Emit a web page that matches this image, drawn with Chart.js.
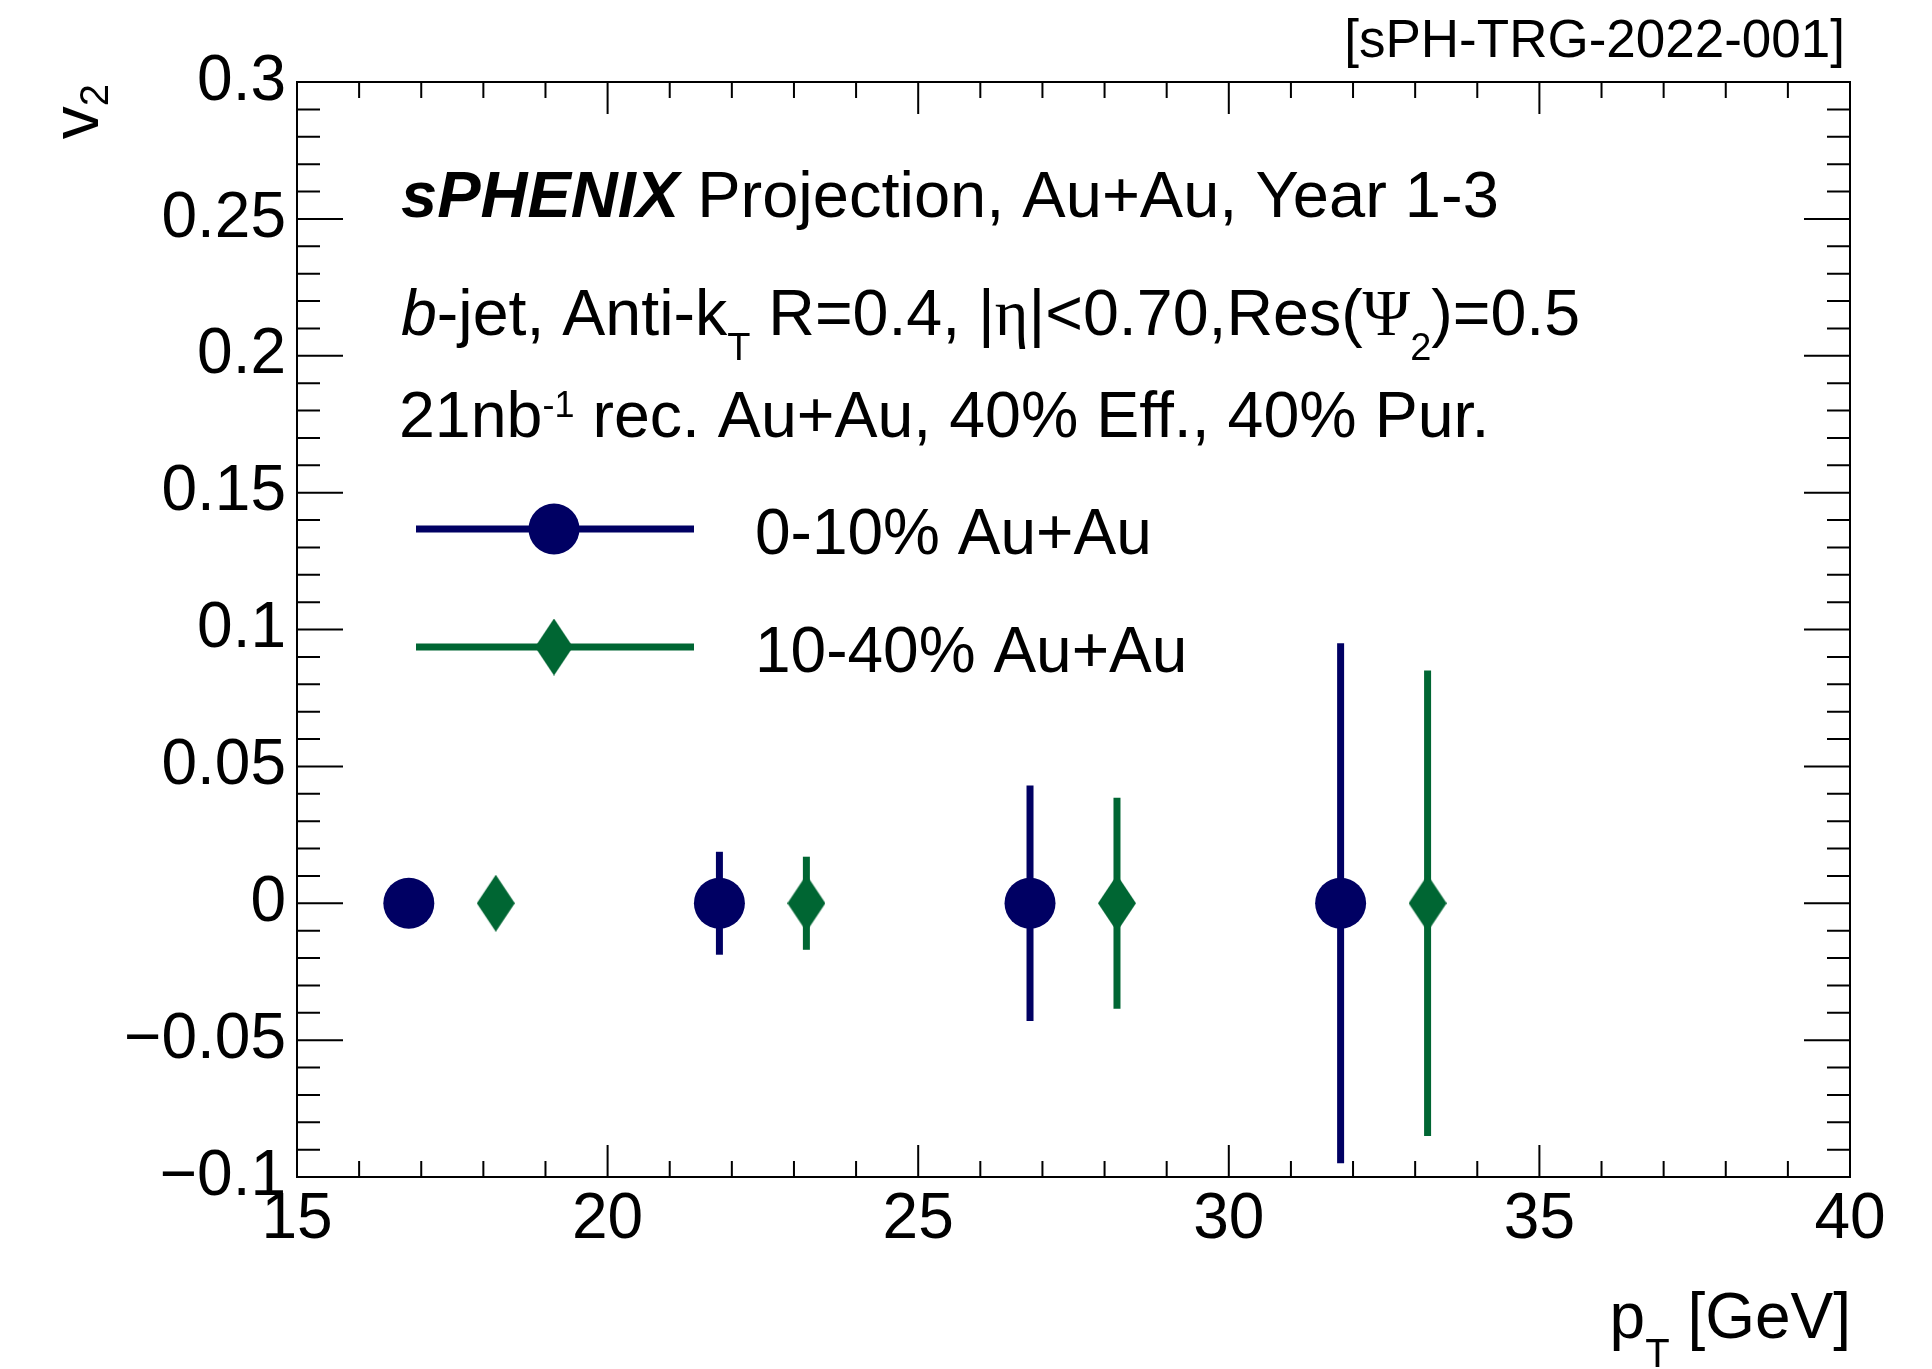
<!DOCTYPE html>
<html>
<head>
<meta charset="utf-8">
<script src="https://cdn.jsdelivr.net/npm/chart.js@4.4.1/dist/chart.umd.min.js"></script>
<style>
  html, body { margin: 0; padding: 0; background: #fff; }
  canvas { display: block; }
</style>
</head>
<body>
<canvas id="myChart" width="1932" height="1369"></canvas>
<script>
// values
const ptCentral = [16.8, 21.8, 26.8, 31.8];
const v2Central = [0, 0, 0, 0];
const errCentral = [0.008, 0.0188, 0.043, 0.095];

const ptMid = [18.2, 23.2, 28.2, 33.2];
const v2Mid = [0, 0, 0, 0];
const errMid = [0.0072, 0.017, 0.0385, 0.085];

const seriesLabels = ['0-10% Au+Au', '10-40% Au+Au'];
const xTicks = [15, 20, 25, 30, 35, 40];
const yTicks = [-0.1, -0.05, 0, 0.05, 0.1, 0.15, 0.2, 0.25, 0.3];

const NAVY = '#000063';
const GREEN = '#006633';
const FONT = '"Liberation Sans", Arial, Helvetica, sans-serif';
const GREEK = '"Liberation Serif", "DejaVu Serif", serif';

// stretched diamond marker
function makeDiamond(w, h, color) {
    const c = document.createElement('canvas');
    c.width = w; c.height = h;
    const g = c.getContext('2d');
    g.fillStyle = color;
    g.beginPath();
    g.moveTo(w / 2, 0);
    g.lineTo(w, h / 2);
    g.lineTo(w / 2, h);
    g.lineTo(0, h / 2);
    g.closePath();
    g.fill();
    return c;
}
const diamond = makeDiamond(38, 57, GREEN);

function fontOf(p) {
    return (p.style || '') + ' ' + (p.size || 65) + 'px ' + (p.family || FONT);
}

// draw text made of pieces (sub/superscripts, italics)
function drawRich(ctx, x, y, parts, align) {
    let total = 0;
    parts.forEach(p => { ctx.font = fontOf(p); total += ctx.measureText(p.t).width; });
    let cx = align === 'right' ? x - total : x;
    ctx.textAlign = 'left';
    ctx.textBaseline = 'alphabetic';
    parts.forEach(p => {
        ctx.font = fontOf(p);
        ctx.fillText(p.t, cx, y + (p.dy || 0));
        cx += ctx.measureText(p.t).width;
    });
}

const errorBars = {
    id: 'errorBars',
    beforeDatasetsDraw(chart) {
        const ctx = chart.ctx;
        const xs = chart.scales.x, ys = chart.scales.y;
        ctx.save();
        chart.data.datasets.forEach(ds => {
            ctx.strokeStyle = ds.borderColor;
            ctx.lineWidth = 7;
            ds.data.forEach((pt, i) => {
                const px = xs.getPixelForValue(pt.x);
                ctx.beginPath();
                ctx.moveTo(px, ys.getPixelForValue(pt.y - ds.errors[i]));
                ctx.lineTo(px, ys.getPixelForValue(pt.y + ds.errors[i]));
                ctx.stroke();
            });
        });
        ctx.restore();
    }
};

const frameAndText = {
    id: 'frameAndText',
    afterDraw(chart) {
        const ctx = chart.ctx;
        const a = chart.chartArea;
        const xs = chart.scales.x, ys = chart.scales.y;
        ctx.save();
        ctx.strokeStyle = '#000';
        ctx.lineWidth = 2;
        ctx.strokeRect(a.left, a.top, a.right - a.left, a.bottom - a.top);

        // inner ticks, all four sides
        ctx.beginPath();
        for (let v = 15; v <= 40; v += 1) {
            const px = xs.getPixelForValue(v);
            const len = v % 5 === 0 ? 32 : 16;
            ctx.moveTo(px, a.bottom); ctx.lineTo(px, a.bottom - len);
            ctx.moveTo(px, a.top); ctx.lineTo(px, a.top + len);
        }
        for (let k = -10; k <= 30; k++) {
            const py = ys.getPixelForValue(k / 100);
            const len = k % 5 === 0 ? 46 : 23;
            ctx.moveTo(a.left, py); ctx.lineTo(a.left + len, py);
            ctx.moveTo(a.right, py); ctx.lineTo(a.right - len, py);
        }
        ctx.stroke();

        ctx.fillStyle = '#000';
        // header
        drawRich(ctx, 1845, 57, [{ t: '[sPH-TRG-2022-001]', size: 53 }], 'right');
        drawRich(ctx, 401, 217, [
            { t: 'sPHENIX', style: 'italic bold' },
            { t: ' Projection, Au+Au, Year 1-3' }
        ]);
        drawRich(ctx, 401, 335, [
            { t: 'b', style: 'italic', size: 64.5 },
            { t: '-jet, Anti-k', size: 64.5 },
            { t: 'T', size: 38, dy: 25 },
            { t: ' R=0.4, |', size: 64.5 },
            { t: 'η', family: GREEK, size: 64.5 },
            { t: '|<0.70,Res(', size: 64.5 },
            { t: 'Ψ', family: GREEK, size: 64.5 },
            { t: '2', size: 38, dy: 25 },
            { t: ')=0.5', size: 64.5 }
        ]);
        drawRich(ctx, 399, 437, [
            { t: '21nb', size: 64.5 },
            { t: '-1', size: 36, dy: -20 },
            { t: ' rec. Au+Au, 40% Eff., 40% Pur.', size: 64.5 }
        ]);

        // legend
        const legendY = [529, 647];
        chart.data.datasets.forEach((ds, i) => {
            const y = legendY[i];
            ctx.strokeStyle = ds.borderColor;
            ctx.lineWidth = 7;
            ctx.beginPath();
            ctx.moveTo(416, y); ctx.lineTo(694, y);
            ctx.stroke();
            if (ds.pointStyle === 'circle') {
                ctx.fillStyle = ds.backgroundColor;
                ctx.beginPath();
                ctx.arc(554, y, 25.5, 0, Math.PI * 2);
                ctx.fill();
            } else {
                ctx.drawImage(ds.pointStyle, 554 - 19, y - 28.5);
            }
            ctx.fillStyle = '#000';
            drawRich(ctx, 755, y + 25, [{ t: ds.label, size: 64 }]);
        });

        // axis titles
        drawRich(ctx, 1851, 1338, [
            { t: 'p', size: 64 },
            { t: 'T', size: 40, dy: 29 },
            { t: ' [GeV]', size: 64 }
        ], 'right');
        ctx.save();
        ctx.translate(98, 84);
        ctx.rotate(-Math.PI / 2);
        drawRich(ctx, 0, 0, [
            { t: 'v', size: 66 },
            { t: '2', size: 40, dy: 10 }
        ], 'right');
        ctx.restore();
        ctx.restore();
    }
};

const ctx = document.getElementById('myChart').getContext('2d');
const myChart = new Chart(ctx, {
    type: 'scatter',
    data: {
        datasets: [{
            label: seriesLabels[0],
            data: ptCentral.map((x, i) => ({ x: x, y: v2Central[i] })),
            errors: errCentral,
            backgroundColor: NAVY,
            borderColor: NAVY,
            pointStyle: 'circle',
            pointRadius: 25.5,
            pointBorderWidth: 0
        }, {
            label: seriesLabels[1],
            data: ptMid.map((x, i) => ({ x: x, y: v2Mid[i] })),
            errors: errMid,
            backgroundColor: GREEN,
            borderColor: GREEN,
            pointStyle: diamond,
            pointRadius: 20,
            pointBorderWidth: 0
        }]
    },
    options: {
        responsive: false,
        devicePixelRatio: 1,
        animation: false,
        layout: { padding: { top: 82, right: 82, left: 0, bottom: 0 } },
        plugins: {
            legend: { display: false },
            tooltip: { enabled: false }
        },
        scales: {
            x: {
                type: 'linear',
                min: 15,
                max: 40,
                afterBuildTicks: s => { s.ticks = xTicks.map(v => ({ value: v })); },
                afterFit: s => { s.height = 192; },
                grid: { drawOnChartArea: false, drawTicks: false },
                border: { display: false },
                ticks: {
                    padding: 5,
                    color: '#000',
                    maxRotation: 0,
                    font: { family: FONT, size: 64 },
                    callback: v => String(v)
                }
            },
            y: {
                type: 'linear',
                min: -0.1,
                max: 0.3,
                afterBuildTicks: s => { s.ticks = yTicks.map(v => ({ value: v })); },
                afterFit: s => { s.width = 297; },
                grid: { drawOnChartArea: false, drawTicks: false },
                border: { display: false },
                ticks: {
                    padding: 11,
                    color: '#000',
                    font: { family: FONT, size: 64 },
                    callback: v => v === 0 ? '0' : (v < 0 ? '\u2212' + String(-v) : String(v))
                }
            }
        }
    },
    plugins: [errorBars, frameAndText]
});
</script>
</body>
</html>
